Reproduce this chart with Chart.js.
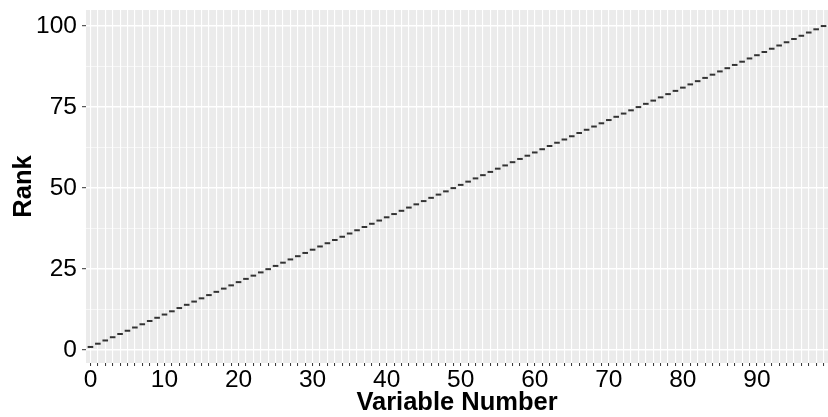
<!DOCTYPE html>
<html>
<head>
<meta charset="utf-8">
<script src="https://cdn.jsdelivr.net/npm/chart.js@4"></script>
<style>
  html, body { margin: 0; padding: 0; background: #ffffff; }
  #wrap { width: 828px; height: 417px; position: relative; }
</style>
</head>
<body>
<div id="wrap"><canvas id="c" width="828" height="417"></canvas></div>
<script>
// ---- data ----
const variableNumbers = [0,1,2,3,4,5,6,7,8,9,10,11,12,13,14,15,16,17,18,19,20,21,22,23,24,25,26,27,28,29,30,31,32,33,34,35,36,37,38,39,40,41,42,43,44,45,46,47,48,49,50,51,52,53,54,55,56,57,58,59,60,61,62,63,64,65,66,67,68,69,70,71,72,73,74,75,76,77,78,79,80,81,82,83,84,85,86,87,88,89,90,91,92,93,94,95,96,97,98,99];
const ranks = [1,2,3,4,5,6,7,8,9,10,11,12,13,14,15,16,17,18,19,20,21,22,23,24,25,26,27,28,29,30,31,32,33,34,35,36,37,38,39,40,41,42,43,44,45,46,47,48,49,50,51,52,53,54,55,56,57,58,59,60,61,62,63,64,65,66,67,68,69,70,71,72,73,74,75,76,77,78,79,80,81,82,83,84,85,86,87,88,89,90,91,92,93,94,95,96,97,98,99,100];
const xTickLabels = ['0','10','20','30','40','50','60','70','80','90'];
const yMajorTicks = [0, 25, 50, 75, 100];
const yMinorTicks = [12.5, 37.5, 62.5, 87.5];

const points = variableNumbers.map((v, i) => ({ x: v, y: ranks[i] }));

const panelBg = {
  id: 'panelBg',
  beforeDraw(chart) {
    const { ctx, chartArea: a } = chart;
    ctx.save();
    ctx.fillStyle = '#EBEBEB';
    ctx.fillRect(a.left, a.top, a.right - a.left, a.bottom - a.top);
    ctx.restore();
  }
};

const isMajorY = v => yMajorTicks.includes(v);
const noPad = s => { s.paddingTop = 0; s.paddingBottom = 0; s.paddingLeft = 0; s.paddingRight = 0; };

new Chart(document.getElementById('c'), {
  type: 'scatter',
  data: {
    datasets: [{
      data: points,
      pointStyle: 'line',
      radius: 2.8,
      borderWidth: 2,
      borderColor: '#333333',
      backgroundColor: '#333333'
    }]
  },
  options: {
    responsive: false,
    animation: false,
    events: [],
    layout: { autoPadding: false, padding: { top: 10, right: 0, left: 0, bottom: 0 } },
    plugins: { legend: { display: false }, tooltip: { enabled: false } },
    scales: {
      x: {
        type: 'linear',
        min: -0.6,
        max: 99.6,
        afterBuildTicks(scale) {
          scale.ticks = variableNumbers.map(v => ({ value: v }));
        },
        afterFit(scale) { scale.height = 54; noPad(scale); },
        border: { display: false },
        grid: {
          color: '#FFFFFF',
          lineWidth: 1.1,
          drawTicks: true,
          tickLength: 3,
          tickColor: '#333333',
          tickWidth: 1
        },
        ticks: {
          autoSkip: false,
          maxRotation: 0,
          minRotation: 0,
          padding: 0,
          color: '#000000',
          font: { family: 'Liberation Sans, Arial, sans-serif', size: 24.5 },
          callback(v) {
            const s = String(v);
            return xTickLabels.includes(s) ? s : '';
          }
        },
        title: {
          display: true,
          text: 'Variable Number',
          color: '#000000',
          font: { family: 'Liberation Sans, Arial, sans-serif', size: 25.5, weight: 'bold' },
          padding: { top: 0, bottom: -1 }
        }
      },
      y: {
        type: 'linear',
        min: -3.95,
        max: 104.95,
        afterBuildTicks(scale) {
          scale.ticks = [0, 12.5, 25, 37.5, 50, 62.5, 75, 87.5, 100].map(v => ({ value: v }));
        },
        afterFit(scale) { scale.width = 86; noPad(scale); },
        border: { display: false },
        grid: {
          color: '#FFFFFF',
          lineWidth: ctx => (ctx.tick && isMajorY(ctx.tick.value)) ? 1.4 : 0.6,
          drawTicks: true,
          tickLength: 4,
          tickColor: ctx => (ctx.tick && isMajorY(ctx.tick.value)) ? '#333333' : 'rgba(0,0,0,0)',
          tickWidth: 1
        },
        ticks: {
          padding: 5,
          color: '#000000',
          font: { family: 'Liberation Sans, Arial, sans-serif', size: 24.5 },
          callback(v) {
            return isMajorY(v) ? String(v) : '';
          }
        },
        title: {
          display: true,
          text: 'Rank',
          color: '#000000',
          font: { family: 'Liberation Sans, Arial, sans-serif', size: 25.5, weight: 'bold' },
          padding: { top: 9, bottom: 0 }
        }
      }
    }
  },
  plugins: [panelBg]
});
</script>
</body>
</html>
